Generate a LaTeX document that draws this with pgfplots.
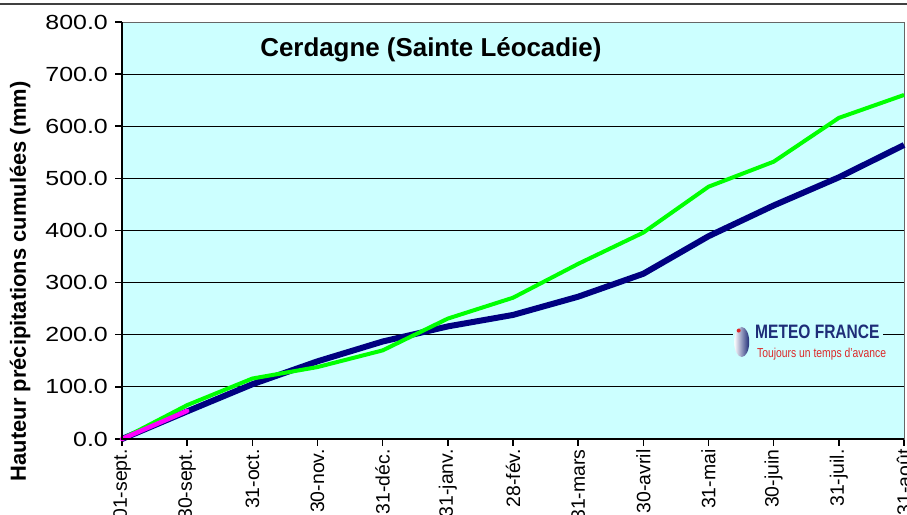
\documentclass[border=0pt]{standalone}
\usepackage{graphicx}
\usepackage{pgfplots}
\pgfplotsset{compat=1.18}
\usepackage{fontspec}
\setmainfont{Liberation Sans}
\definecolor{bgcyan}{RGB}{204,255,255}
\definecolor{navyline}{RGB}{0,0,128}
\definecolor{greenline}{RGB}{0,255,0}
\definecolor{magline}{RGB}{255,0,255}
\definecolor{mfblue}{RGB}{30,45,120}
\definecolor{mfred}{RGB}{220,40,40}
\begin{document}
\begin{tikzpicture}[x=1bp,y=1bp]
\useasboundingbox (0,0) rectangle (907,515);
\clip (0,0) rectangle (907,515);
\draw[line width=2bp, black!75] (0,511) -- (907,511);
\begin{axis}[
  at={(122bp,76bp)}, anchor=south west,
  scale only axis, width=782bp, height=417bp,
  xmin=0, xmax=12, ymin=0, ymax=800,
  clip=false,
  axis background/.style={fill=bgcyan},
  axis line style={draw=black!60, line width=0.8bp},
  xtick={0,...,12},
  xticklabels={01-sept.,30-sept.,31-oct.,30-nov.,31-déc.,31-janv.,28-fév.,31-mars,30-avril,31-mai,30-juin,31-juil.,31-août},
  ytick={0,100,...,800},
  ymajorgrids, major grid style={black, line width=0.8bp},
  tick pos=left, tick align=outside, major tick length=7bp,
  tick style={black, line width=1.5bp},
  /pgf/number format/assume math mode=true,
  yticklabel={\scalebox{1.22}[1]{\pgfmathprintnumber[fixed,fixed zerofill,precision=1]{\tick}}},
  yticklabel style={font=\fontsize{20.5}{20.5}\selectfont, inner sep=2bp, xshift=-5bp},
  xticklabel style={font=\fontsize{19.5}{19.5}\selectfont, rotate=90, anchor=east},
  ylabel={Hauteur précipitations cumulées (mm)},
  ylabel style={font=\bfseries\fontsize{22}{22}\selectfont, at={(rel axis cs:-0.1304,0.378)}, anchor=center},
]
\addplot[navyline, line width=6bp] coordinates {
(0,0) (1,53) (2,105) (3,149) (4,187) (5,216) (6,238) (7,273) (8,317) (9,389) (10,448) (11,502) (12,564)};
\addplot[greenline, line width=4bp] coordinates {
(0,0) (1,65) (2,116) (3,138) (4,170) (5,231) (6,271) (7,336) (8,396) (9,484) (10,532) (11,616) (12,660)};
\addplot[magline, line width=4.5bp, line cap=round] coordinates {(0,0) (1,54)};
\draw[line width=2.2bp, black] (rel axis cs:0,1) -- (rel axis cs:0,0) -- (rel axis cs:1,0);
\node[font=\bfseries\fontsize{26}{26}\selectfont] at (rel axis cs:0.395,0.933) {Cerdagne (Sainte Léocadie)};
\fill[bgcyan] (rel axis cs:0.781,0.1847) rectangle (rel axis cs:0.973,0.2806);
\shade[left color=white, right color=mfblue] (rel axis cs:0.7925,0.2326) ellipse[x radius=7.5bp, y radius=15bp];
\fill[mfred] (rel axis cs:0.7886,0.26) circle[radius=2bp];
\node[anchor=base west, inner sep=0, font=\bfseries\fontsize{19.5}{19.5}\selectfont, text=mfblue, xscale=0.8] at (rel axis cs:0.8095,0.242) {METEO FRANCE};
\node[anchor=base west, inner sep=0, font=\fontsize{13}{13}\selectfont, text=mfred, xscale=0.8] at (rel axis cs:0.812,0.196) {Toujours un temps d'avance};
\end{axis}
\end{tikzpicture}
\end{document}
